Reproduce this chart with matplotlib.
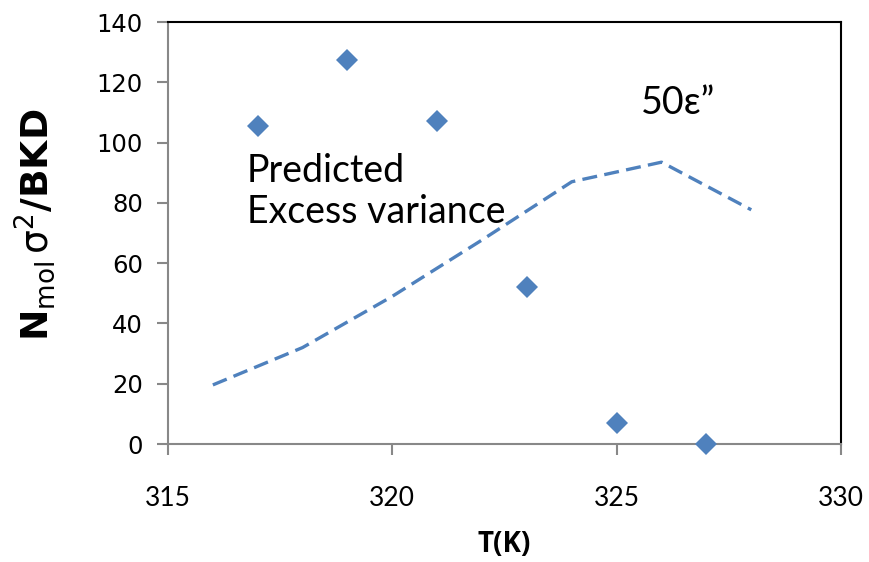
import matplotlib
matplotlib.use("Agg")
import matplotlib.pyplot as plt

# Measured excess variance (diamonds)
t_meas = [317, 319, 321, 323, 325, 327]
var_meas = [105.5, 127.5, 107.0, 52.0, 7.0, 0.0]

# Predicted curve, 50 x epsilon''
t_pred = [316, 318, 320, 322, 324, 326, 328]
var_pred = [19.6, 32.0, 49.0, 67.7, 87.0, 93.5, 77.7]

x_ticks = [315, 320, 325, 330]
y_ticks = [0, 20, 40, 60, 80, 100, 120, 140]

blue = "#4F81BD"
text_font = ["Lato", "DejaVu Sans"]
bold_font = ["Open Sans", "DejaVu Sans"]

fig = plt.figure(figsize=(8.7, 5.62), dpi=100)
ax = fig.add_axes([168 / 870, 1 - 444 / 562, (841 - 168) / 870, (444 - 22) / 562])

ax.plot(t_pred, var_pred, color=blue, lw=2.4, ls=(0, (4.5, 2.2)),
        dash_capstyle="butt", zorder=2)
ax.plot(t_meas, var_meas, ls="none", marker="D", ms=11.5, color=blue,
        markeredgewidth=0, zorder=3, clip_on=False)

ax.set_xlim(315, 330)
ax.set_ylim(0, 140)
ax.set_xticks(x_ticks)
ax.set_yticks(y_ticks)
ax.set_xticklabels([str(v) for v in x_ticks], fontsize=19, family=text_font)
ax.set_yticklabels([str(v) for v in y_ticks], fontsize=17.5, family=["DejaVu Sans"])

for side in ("left", "bottom"):
    ax.spines[side].set_color("#888888")
    ax.spines[side].set_linewidth(1.5)
for side in ("top", "right"):
    ax.spines[side].set_color("black")
    ax.spines[side].set_linewidth(1.5)

ax.tick_params(axis="y", direction="out", length=8, width=1.5, color="#888888", pad=10)
ax.tick_params(axis="x", direction="out", length=8, width=1.5, color="#888888", pad=22)

ax.set_xlabel("T(K)", fontsize=20, fontweight="bold", family=bold_font, labelpad=14)
ax.set_ylabel(r"$\mathbf{N}_{\mathrm{mol}}\,\mathrm{\sigma}^{2}\mathbf{/BKD}$",
              fontsize=27)
ax.yaxis.set_label_coords(-0.165, 0.52)

ax.text(316.75, 96.5, "Predicted\nExcess variance", fontsize=27, family=text_font,
        va="top", ha="left", linespacing=1.18, zorder=4)
ax.text(325.55, 107.0, "50\u03b5\u201d", fontsize=27, family=text_font,
        va="bottom", ha="left", zorder=4)

fig.savefig("out.png", dpi=100)
